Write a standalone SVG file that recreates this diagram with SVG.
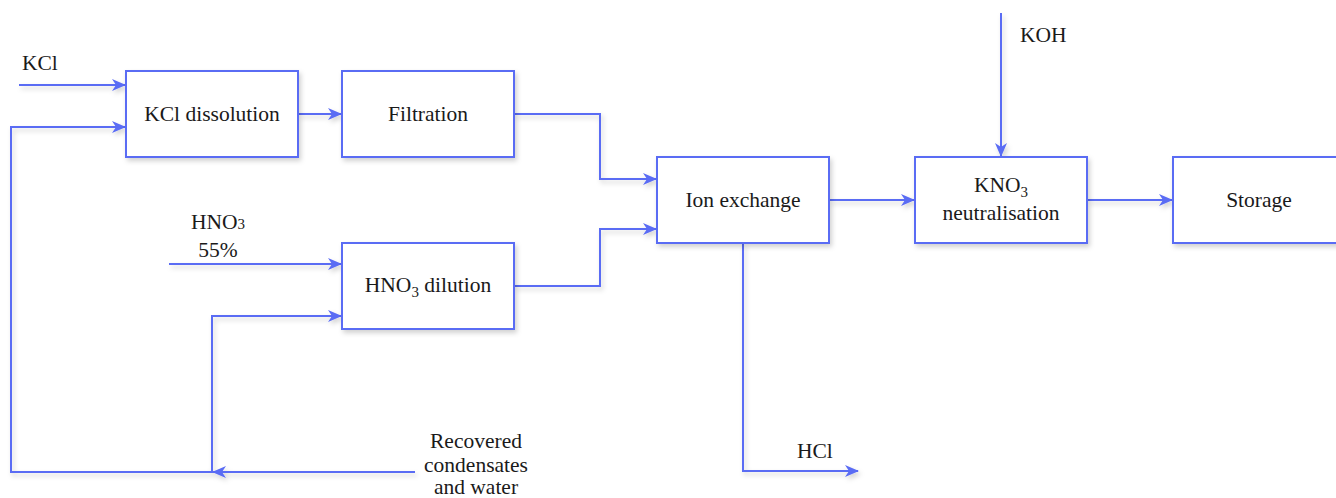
<svg xmlns="http://www.w3.org/2000/svg" width="1336" height="498" viewBox="0 0 1336 498">
<defs>
<filter id="sh" x="-10%" y="-10%" width="130%" height="140%">
<feDropShadow dx="2" dy="3" stdDeviation="2.5" flood-color="#000" flood-opacity="0.18"/>
</filter>
<marker id="ah" markerWidth="14" markerHeight="12" viewBox="0 0 14 12" refX="13" refY="6" orient="auto" markerUnits="userSpaceOnUse">
<path d="M0,0 L14,6 L0,12 L4,6 Z" fill="#5a6cf4"/>
</marker>
</defs>
<style>
.box{fill:#fff;stroke:#5a6cf4;stroke-width:2}
.ln{fill:none;stroke:#5a6cf4;stroke-width:2}
text{font-family:"Liberation Serif","Times New Roman",serif;font-size:21.5px;fill:#1a1a1a}
.c{text-anchor:middle}
</style>
<rect width="1336" height="498" fill="#fff"/>
<g id="connectors" filter="url(#sh)">
<path class="ln" d="M19,85 H125" marker-end="url(#ah)"/>
<path class="ln" d="M415,472 H213" marker-end="url(#ah)"/>
<path class="ln" d="M213,472 H11 V127 H125" marker-end="url(#ah)"/>
<path class="ln" d="M212,472 V316 H341" marker-end="url(#ah)"/>
<path class="ln" d="M169,264 H341" marker-end="url(#ah)"/>
<path class="ln" d="M298,114 H341" marker-end="url(#ah)"/>
<path class="ln" d="M514,114 H600 V179 H656" marker-end="url(#ah)"/>
<path class="ln" d="M514,286 H600 V229 H656" marker-end="url(#ah)"/>
<path class="ln" d="M829,200 H914" marker-end="url(#ah)"/>
<path class="ln" d="M1001,13 V156" marker-end="url(#ah)"/>
<path class="ln" d="M1087,200 H1172" marker-end="url(#ah)"/>
<path class="ln" d="M743,243 V471 H858" marker-end="url(#ah)"/>
</g>
<g id="kcl-dissolution"><rect class="box" x="126" y="71" width="172" height="86" filter="url(#sh)"/><text class="c" x="212" y="121">KCl dissolution</text></g>
<g id="filtration"><rect class="box" x="342" y="71" width="172" height="86" filter="url(#sh)"/><text class="c" x="428" y="121">Filtration</text></g>
<g id="hno3-dilution"><rect class="box" x="342" y="243" width="172" height="86" filter="url(#sh)"/><text class="c" x="428" y="292">HNO<tspan font-size="15" dy="5">3</tspan><tspan dy="-5"> dilution</tspan></text></g>
<g id="ion-exchange"><rect class="box" x="657" y="157" width="172" height="86" filter="url(#sh)"/><text class="c" x="743" y="207">Ion exchange</text></g>
<g id="kno3-neutralisation"><rect class="box" x="915" y="157" width="172" height="86" filter="url(#sh)"/><text class="c" x="1001" y="192">KNO<tspan font-size="15" dy="5">3</tspan></text><text class="c" x="1001" y="220">neutralisation</text></g>
<g id="storage"><rect class="box" x="1173" y="157" width="180" height="86" filter="url(#sh)"/><text class="c" x="1259" y="207">Storage</text></g>
<g id="labels">
<text x="22" y="70">KCl</text>
<text class="c" x="218" y="229">HNO<tspan font-size="15">3</tspan></text>
<text class="c" x="218" y="257">55%</text>
<text x="1020" y="42">KOH</text>
<text x="797" y="458">HCl</text>
<text class="c" x="476" y="448">Recovered</text>
<text class="c" x="476" y="472">condensates</text>
<text class="c" x="476" y="494">and water</text>
</g>
</svg>
